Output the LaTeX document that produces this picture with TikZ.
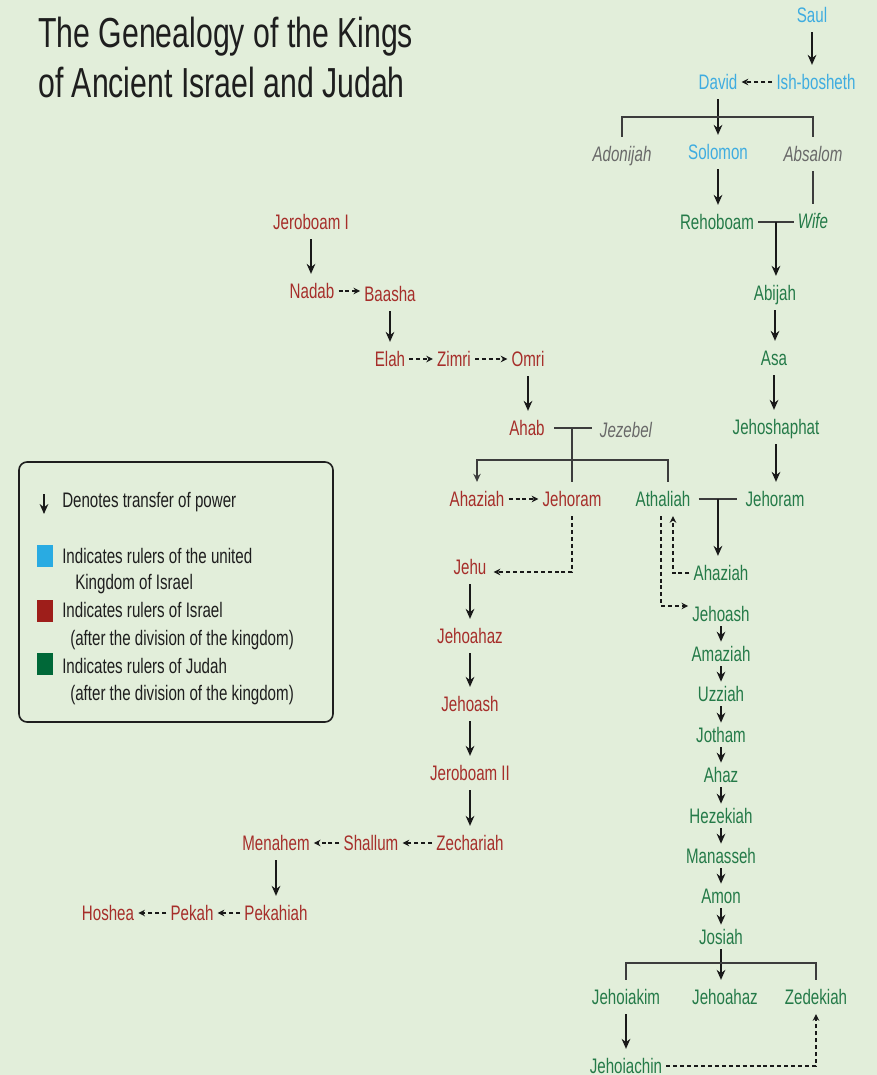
\documentclass[tikz,border=0pt]{standalone}
\usepackage{fontspec}
\setmainfont{Liberation Sans}[FakeStretch=0.72]
\usetikzlibrary{arrows.meta,calc}

\definecolor{bgcol}{RGB}{226,238,218}
\definecolor{unitedblue}{RGB}{62,172,224}
\definecolor{israelred}{RGB}{166,46,42}
\definecolor{judahgreen}{RGB}{36,122,72}
\definecolor{othergray}{RGB}{105,105,105}
\definecolor{arrowcol}{RGB}{25,25,25}
\definecolor{linecol}{RGB}{60,60,60}
\definecolor{keycol}{RGB}{30,30,30}
\definecolor{keyblue}{RGB}{41,171,226}
\definecolor{keyred}{RGB}{158,30,26}
\definecolor{keygreen}{RGB}{0,104,56}

\tikzstyle{king}=[inner xsep=3pt,inner ysep=7pt,text height=11.3pt,text depth=0pt,font=\fontsize{15.75}{18}\selectfont]
\tikzstyle{united}=[king,text=unitedblue]
\tikzstyle{israel}=[king,text=israelred]
\tikzstyle{judah}=[king,text=judahgreen]
\tikzstyle{spouse}=[king,text=othergray,font=\fontsize{15.75}{18}\selectfont\itshape]
\tikzstyle{tight}=[inner ysep=3.4pt]
\tikzstyle{power}=[draw=arrowcol,line width=1.5pt,-{Stealth[length=7.5pt,width=6.5pt]}]
\tikzstyle{seize}=[draw=arrowcol,line width=1.1pt,dash pattern=on 3pt off 2.2pt,-{Stealth[length=5pt,width=5pt]}]
\tikzstyle{kin}=[draw=linecol,line width=1.3pt]
\tikzstyle{keytext}=[anchor=west,inner sep=0pt,text height=11.3pt,text depth=0pt,text=keycol,font=\fontsize{15.75}{18}\selectfont]
\tikzstyle{keysq}=[inner sep=0pt,minimum width=12pt,minimum height=17pt]
\tikzstyle{heading}=[anchor=base west,inner sep=0pt,text=keycol,font=\fontsize{31.5}{36}\selectfont]

\begin{document}
\begin{tikzpicture}[x=0.75pt,y=-0.75pt]
            \fill[bgcol] (0,0) rectangle (877,1075);
            \useasboundingbox (0,0) rectangle (877,1075);

            \node (title) at (38,47) [heading] {The Genealogy of the Kings};
            \node (subtitle) at (38,97) [heading] {of Ancient Israel and Judah};

            \draw[draw=keycol,line width=1.2pt,rounded corners=6pt] (19,462) rectangle (333,722);
            \coordinate (keytop) at (44,494);
            \coordinate (keybot) at (44,514);
            \draw[power,line width=1.3pt] (keytop) -- (keybot);
            \node (keypow) at (62,500) [keytext] {Denotes transfer of power};
            \node (keyu) at (45,556) [keysq,fill=keyblue] {};
            \node (keyutext) at (62,556) [keytext] {Indicates rulers of the united};
            \node (keyutext2) at (75,582) [keytext] {Kingdom of Israel};
            \node (keyi) at (45,611) [keysq,fill=keyred] {};
            \node (keyitext) at (62,610) [keytext] {Indicates rulers of Israel};
            \node (keyitext2) at (70,638) [keytext] {(after the division of the kingdom)};
            \node (keyj) at (45,664) [keysq,fill=keygreen] {};
            \node (keyjtext) at (62,666) [keytext] {Indicates rulers of Judah};
            \node (keyjtext2) at (70,693) [keytext] {(after the division of the kingdom)};

            \node (saul) at (812,15) [united] {Saul};
            \node (david) at (718,82) [united] {David};
            \node (ishb) at (816,82) [united] {Ish-bosheth};
            \node (solomon) at (718,152) [united] {Solomon};
            \node (adonijah) at (622,154) [spouse] {Adonijah};
            \node (absalom) at (813,154) [spouse] {Absalom};

            \node (rehoboam) at (717,222) [judah] {Rehoboam};
            \node (wife) at (813,221) [spouse,text=judahgreen] {Wife};
            \node (abijah) at (775,293) [judah] {Abijah};
            \node (asa) at (774,358) [judah] {Asa};
            \node (jehoshaphat) at (776,427) [judah] {Jehoshaphat};
            \node (jehoramj) at (775,499) [judah] {Jehoram};
            \node (athaliah) at (663,499) [judah] {Athaliah};
            \node (ahaziahj) at (721,573) [judah] {Ahaziah};
            \node (jehoashj) at (721,614) [judah,tight] {Jehoash};
            \node (amaziah) at (721,654) [judah,tight] {Amaziah};
            \node (uzziah) at (721,694) [judah,tight] {Uzziah};
            \node (jotham) at (721,735) [judah,tight] {Jotham};
            \node (ahaz) at (721,775) [judah,tight] {Ahaz};
            \node (hezekiah) at (721,816) [judah,tight] {Hezekiah};
            \node (manasseh) at (721,856) [judah,tight] {Manasseh};
            \node (amon) at (721,896) [judah,tight] {Amon};
            \node (josiah) at (721,937) [judah,tight] {Josiah};
            \node (jehoiakim) at (626,997) [judah] {Jehoiakim};
            \node (jehoahazj) at (725,997) [judah] {Jehoahaz};
            \node (zedekiah) at (816,997) [judah] {Zedekiah};
            \node (jehoiachin) at (626,1066) [judah] {Jehoiachin};

            \node (jeroboam) at (311,222) [israel] {Jeroboam I};
            \node (nadab) at (312,291) [israel] {Nadab};
            \node (baasha) at (390,294) [israel] {Baasha};
            \node (elah) at (390,359) [israel] {Elah};
            \node (zimri) at (454,359) [israel] {Zimri};
            \node (omri) at (528,359) [israel] {Omri};
            \node (ahab) at (527,428) [israel] {Ahab};
            \node (jezebel) at (626,430) [spouse] {Jezebel};
            \node (ahaziahi) at (477,499) [israel] {Ahaziah};
            \node (jehoramii) at (572,499) [israel] {Jehoram};
            \node (jehu) at (470,567) [israel] {Jehu};
            \node (jehoahazi) at (470,636) [israel] {Jehoahaz};
            \node (jehoashi) at (470,704) [israel] {Jehoash};
            \node (jeroboamii) at (470,773) [israel] {Jeroboam II};
            \node (zechariah) at (470,843) [israel] {Zechariah};
            \node (shallum) at (371,843) [israel] {Shallum};
            \node (menahem) at (276,843) [israel] {Menahem};
            \node (pekahiah) at (276,913) [israel] {Pekahiah};
            \node (pekah) at (192,913) [israel] {Pekah};
            \node (hoshea) at (108,913) [israel] {Hoshea};

            \draw[power] (saul.south) -- (saul.south |- ishb.north);
            \draw[seize] (ishb.west) -- (david.east);
            \draw[power] (david.south) -- (david.south |- solomon.north);
            \draw[kin] (adonijah.north) -- ++(0,-20) -| (absalom.north);
            \draw[power] (solomon.south) -- (solomon.south |- rehoboam.north);
            \draw[kin] (absalom.south) -- (absalom.south |- wife.north);
            \draw[kin] (rehoboam.east) -- (rehoboam.east -| wife.west);
            \coordinate (rw) at ($(rehoboam.east)!0.5!(rehoboam.east -| wife.west)$);
            \draw[power] (rw) -- (rw |- abijah.north);
            \draw[power] (abijah.south) -- (abijah.south |- asa.north);
            \draw[power] (asa.south) -- (asa.south |- jehoshaphat.north);
            \draw[power] (jehoshaphat.south) -- (jehoshaphat.south |- jehoramj.north);
            \draw[kin,shorten <=3pt,shorten >=3pt] (athaliah.east) -- (jehoramj.west);
            \coordinate (aj) at ($(athaliah.east)!0.5!(jehoramj.west)$);
            \draw[power] (aj) -- (aj |- ahaziahj.north);
            \draw[seize] (ahaziahj.west) -| ($(athaliah.south)+(10,0)$);
            \draw[seize] ($(athaliah.south)+(-2,0)$) |- ($(jehoashj.west)+(0,-8)$);
            \draw[power] (jehoashj.south) -- (amaziah.north);
            \draw[power] (amaziah.south) -- (uzziah.north);
            \draw[power] (uzziah.south) -- (jotham.north);
            \draw[power] (jotham.south) -- (ahaz.north);
            \draw[power] (ahaz.south) -- (hezekiah.north);
            \draw[power] (hezekiah.south) -- (manasseh.north);
            \draw[power] (manasseh.south) -- (amon.north);
            \draw[power] (amon.south) -- (josiah.north);
            \draw[power] (josiah.south) -- (josiah.south |- jehoahazj.north);
            \draw[kin] (jehoiakim.north) -- ++(0,-17) -| (zedekiah.north);
            \draw[power] (jehoiakim.south) -- (jehoiachin.north);
            \draw[seize] (jehoiachin.east) -| (zedekiah.south);

            \draw[power] (jeroboam.south) -- (jeroboam.south |- nadab.north);
            \draw[seize] (nadab.east) -- (nadab.east -| baasha.west);
            \draw[power] (baasha.south) -- (baasha.south |- elah.north);
            \draw[seize] (elah.east) -- (zimri.west);
            \draw[seize] (zimri.east) -- (omri.west);
            \draw[power] (omri.south) -- (omri.south |- ahab.north);
            \draw[kin,shorten <=4pt,shorten >=3pt] (ahab.east) -- (ahab.east -| jezebel.west);
            \coordinate (aw) at ($(ahab.east)!0.5!(ahab.east -| jezebel.west)$);
            \draw[kin] (aw) -- (aw |- jehoramii.north);
            \draw[kin,-{Stealth[length=6pt,width=5.5pt]}] ($(athaliah.north)+(5,0)$) -- ++(0,-22) -| (ahaziahi.north);
            \draw[seize] (ahaziahi.east) -- (jehoramii.west);
            \draw[seize] (jehoramii.south) |- ($(jehu.east)+(3,5)$);
            \draw[power] (jehu.south) -- (jehoahazi.north);
            \draw[power] (jehoahazi.south) -- (jehoashi.north);
            \draw[power] (jehoashi.south) -- (jeroboamii.north);
            \draw[power] (jeroboamii.south) -- (zechariah.north);
            \draw[seize] (zechariah.west) -- (shallum.east);
            \draw[seize] (shallum.west) -- (menahem.east);
            \draw[power] (menahem.south) -- (pekahiah.north);
            \draw[seize] (pekahiah.west) -- (pekah.east);
            \draw[seize] (pekah.west) -- (hoshea.east);
\end{tikzpicture}
\end{document}
